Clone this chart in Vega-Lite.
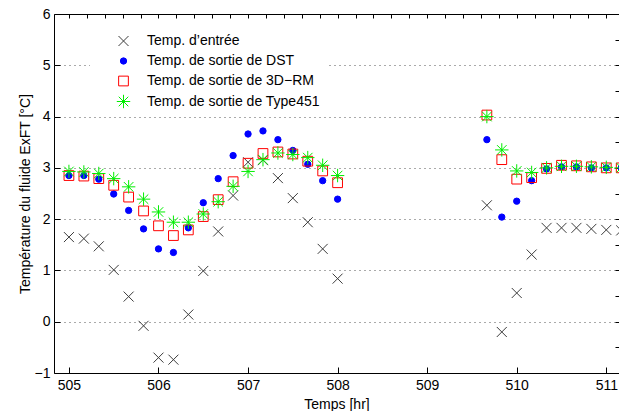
{
  "$schema": "https://vega.github.io/schema/vega-lite/v6.json",
  "width": 565,
  "height": 359,
  "autosize": {"type": "none"},
  "padding": {"left": 54, "top": 14, "right": 0, "bottom": 38},
  "config": {
    "view": {"stroke": "black", "strokeWidth": 1},
    "font": "Liberation Sans",
    "axis": {
      "labelFont": "Liberation Sans",
      "titleFont": "Liberation Sans",
      "labelFontSize": 14,
      "titleFontSize": 14,
      "titleFontWeight": "normal",
      "labelColor": "black",
      "titleColor": "black",
      "domain": false,
      "grid": false
    },
    "legend": {
      "orient": "none",
      "legendX": 36,
      "legendY": 14,
      "padding": 6,
      "fillColor": "white",
      "labelFont": "Liberation Sans",
      "labelFontSize": 14,
      "labelColor": "black",
      "labelLimit": 400,
      "rowPadding": 1,
      "gridAlign": "all",
      "symbolStrokeWidth": 1,
      "symbolOffset": 20,
      "labelOffset": 16
    }
  },
  "resolve": {"axis": {"x": "independent", "y": "independent"}},
  "data": {
    "values": [
      {"t": 505.0, "v": 1.65, "s": "Temp. d’entrée"},
      {"t": 505.1667, "v": 1.62, "s": "Temp. d’entrée"},
      {"t": 505.3333, "v": 1.47, "s": "Temp. d’entrée"},
      {"t": 505.5, "v": 1.01, "s": "Temp. d’entrée"},
      {"t": 505.6667, "v": 0.49, "s": "Temp. d’entrée"},
      {"t": 505.8333, "v": -0.08, "s": "Temp. d’entrée"},
      {"t": 506.0, "v": -0.70, "s": "Temp. d’entrée"},
      {"t": 506.1667, "v": -0.74, "s": "Temp. d’entrée"},
      {"t": 506.3333, "v": 0.14, "s": "Temp. d’entrée"},
      {"t": 506.5, "v": 0.99, "s": "Temp. d’entrée"},
      {"t": 506.6667, "v": 1.76, "s": "Temp. d’entrée"},
      {"t": 506.8333, "v": 2.46, "s": "Temp. d’entrée"},
      {"t": 507.0, "v": 3.11, "s": "Temp. d’entrée"},
      {"t": 507.1667, "v": 3.15, "s": "Temp. d’entrée"},
      {"t": 507.3333, "v": 2.80, "s": "Temp. d’entrée"},
      {"t": 507.5, "v": 2.41, "s": "Temp. d’entrée"},
      {"t": 507.6667, "v": 1.94, "s": "Temp. d’entrée"},
      {"t": 507.8333, "v": 1.42, "s": "Temp. d’entrée"},
      {"t": 508.0, "v": 0.84, "s": "Temp. d’entrée"},
      {"t": 509.6667, "v": 2.27, "s": "Temp. d’entrée"},
      {"t": 509.8333, "v": -0.20, "s": "Temp. d’entrée"},
      {"t": 510.0, "v": 0.56, "s": "Temp. d’entrée"},
      {"t": 510.1667, "v": 1.31, "s": "Temp. d’entrée"},
      {"t": 510.3333, "v": 1.83, "s": "Temp. d’entrée"},
      {"t": 510.5, "v": 1.83, "s": "Temp. d’entrée"},
      {"t": 510.6667, "v": 1.83, "s": "Temp. d’entrée"},
      {"t": 510.8333, "v": 1.81, "s": "Temp. d’entrée"},
      {"t": 511.0, "v": 1.79, "s": "Temp. d’entrée"},
      {"t": 511.1667, "v": 1.78, "s": "Temp. d’entrée"},

      {"t": 505.0, "v": 2.85, "s": "Temp. de sortie de DST"},
      {"t": 505.1667, "v": 2.85, "s": "Temp. de sortie de DST"},
      {"t": 505.3333, "v": 2.78, "s": "Temp. de sortie de DST"},
      {"t": 505.5, "v": 2.49, "s": "Temp. de sortie de DST"},
      {"t": 505.6667, "v": 2.17, "s": "Temp. de sortie de DST"},
      {"t": 505.8333, "v": 1.81, "s": "Temp. de sortie de DST"},
      {"t": 506.0, "v": 1.42, "s": "Temp. de sortie de DST"},
      {"t": 506.1667, "v": 1.35, "s": "Temp. de sortie de DST"},
      {"t": 506.3333, "v": 1.83, "s": "Temp. de sortie de DST"},
      {"t": 506.5, "v": 2.32, "s": "Temp. de sortie de DST"},
      {"t": 506.6667, "v": 2.79, "s": "Temp. de sortie de DST"},
      {"t": 506.8333, "v": 3.24, "s": "Temp. de sortie de DST"},
      {"t": 507.0, "v": 3.66, "s": "Temp. de sortie de DST"},
      {"t": 507.1667, "v": 3.72, "s": "Temp. de sortie de DST"},
      {"t": 507.3333, "v": 3.55, "s": "Temp. de sortie de DST"},
      {"t": 507.5, "v": 3.34, "s": "Temp. de sortie de DST"},
      {"t": 507.6667, "v": 3.07, "s": "Temp. de sortie de DST"},
      {"t": 507.8333, "v": 2.75, "s": "Temp. de sortie de DST"},
      {"t": 508.0, "v": 2.39, "s": "Temp. de sortie de DST"},
      {"t": 509.6667, "v": 3.55, "s": "Temp. de sortie de DST"},
      {"t": 509.8333, "v": 2.04, "s": "Temp. de sortie de DST"},
      {"t": 510.0, "v": 2.35, "s": "Temp. de sortie de DST"},
      {"t": 510.1667, "v": 2.75, "s": "Temp. de sortie de DST"},
      {"t": 510.3333, "v": 2.98, "s": "Temp. de sortie de DST"},
      {"t": 510.5, "v": 3.02, "s": "Temp. de sortie de DST"},
      {"t": 510.6667, "v": 3.02, "s": "Temp. de sortie de DST"},
      {"t": 510.8333, "v": 3.0, "s": "Temp. de sortie de DST"},
      {"t": 511.0, "v": 3.0, "s": "Temp. de sortie de DST"},
      {"t": 511.1667, "v": 3.0, "s": "Temp. de sortie de DST"},

      {"t": 505.0, "v": 2.85, "s": "Temp. de sortie de 3D−RM"},
      {"t": 505.1667, "v": 2.84, "s": "Temp. de sortie de 3D−RM"},
      {"t": 505.3333, "v": 2.79, "s": "Temp. de sortie de 3D−RM"},
      {"t": 505.5, "v": 2.66, "s": "Temp. de sortie de 3D−RM"},
      {"t": 505.6667, "v": 2.43, "s": "Temp. de sortie de 3D−RM"},
      {"t": 505.8333, "v": 2.16, "s": "Temp. de sortie de 3D−RM"},
      {"t": 506.0, "v": 1.87, "s": "Temp. de sortie de 3D−RM"},
      {"t": 506.1667, "v": 1.68, "s": "Temp. de sortie de 3D−RM"},
      {"t": 506.3333, "v": 1.79, "s": "Temp. de sortie de 3D−RM"},
      {"t": 506.5, "v": 2.05, "s": "Temp. de sortie de 3D−RM"},
      {"t": 506.6667, "v": 2.38, "s": "Temp. de sortie de 3D−RM"},
      {"t": 506.8333, "v": 2.73, "s": "Temp. de sortie de 3D−RM"},
      {"t": 507.0, "v": 3.09, "s": "Temp. de sortie de 3D−RM"},
      {"t": 507.1667, "v": 3.28, "s": "Temp. de sortie de 3D−RM"},
      {"t": 507.3333, "v": 3.31, "s": "Temp. de sortie de 3D−RM"},
      {"t": 507.5, "v": 3.27, "s": "Temp. de sortie de 3D−RM"},
      {"t": 507.6667, "v": 3.13, "s": "Temp. de sortie de 3D−RM"},
      {"t": 507.8333, "v": 2.94, "s": "Temp. de sortie de 3D−RM"},
      {"t": 508.0, "v": 2.71, "s": "Temp. de sortie de 3D−RM"},
      {"t": 509.6667, "v": 4.03, "s": "Temp. de sortie de 3D−RM"},
      {"t": 509.8333, "v": 3.16, "s": "Temp. de sortie de 3D−RM"},
      {"t": 510.0, "v": 2.78, "s": "Temp. de sortie de 3D−RM"},
      {"t": 510.1667, "v": 2.81, "s": "Temp. de sortie de 3D−RM"},
      {"t": 510.3333, "v": 2.99, "s": "Temp. de sortie de 3D−RM"},
      {"t": 510.5, "v": 3.05, "s": "Temp. de sortie de 3D−RM"},
      {"t": 510.6667, "v": 3.04, "s": "Temp. de sortie de 3D−RM"},
      {"t": 510.8333, "v": 3.02, "s": "Temp. de sortie de 3D−RM"},
      {"t": 511.0, "v": 3.0, "s": "Temp. de sortie de 3D−RM"},
      {"t": 511.1667, "v": 3.0, "s": "Temp. de sortie de 3D−RM"},

      {"t": 505.0, "v": 2.93, "s": "Temp. de sortie de Type451"},
      {"t": 505.1667, "v": 2.92, "s": "Temp. de sortie de Type451"},
      {"t": 505.3333, "v": 2.89, "s": "Temp. de sortie de Type451"},
      {"t": 505.5, "v": 2.79, "s": "Temp. de sortie de Type451"},
      {"t": 505.6667, "v": 2.63, "s": "Temp. de sortie de Type451"},
      {"t": 505.8333, "v": 2.39, "s": "Temp. de sortie de Type451"},
      {"t": 506.0, "v": 2.14, "s": "Temp. de sortie de Type451"},
      {"t": 506.1667, "v": 1.94, "s": "Temp. de sortie de Type451"},
      {"t": 506.3333, "v": 1.94, "s": "Temp. de sortie de Type451"},
      {"t": 506.5, "v": 2.10, "s": "Temp. de sortie de Type451"},
      {"t": 506.6667, "v": 2.34, "s": "Temp. de sortie de Type451"},
      {"t": 506.8333, "v": 2.64, "s": "Temp. de sortie de Type451"},
      {"t": 507.0, "v": 2.93, "s": "Temp. de sortie de Type451"},
      {"t": 507.1667, "v": 3.16, "s": "Temp. de sortie de Type451"},
      {"t": 507.3333, "v": 3.29, "s": "Temp. de sortie de Type451"},
      {"t": 507.5, "v": 3.26, "s": "Temp. de sortie de Type451"},
      {"t": 507.6667, "v": 3.20, "s": "Temp. de sortie de Type451"},
      {"t": 507.8333, "v": 3.05, "s": "Temp. de sortie de Type451"},
      {"t": 508.0, "v": 2.85, "s": "Temp. de sortie de Type451"},
      {"t": 509.6667, "v": 4.00, "s": "Temp. de sortie de Type451"},
      {"t": 509.8333, "v": 3.35, "s": "Temp. de sortie de Type451"},
      {"t": 510.0, "v": 2.94, "s": "Temp. de sortie de Type451"},
      {"t": 510.1667, "v": 2.91, "s": "Temp. de sortie de Type451"},
      {"t": 510.3333, "v": 3.0, "s": "Temp. de sortie de Type451"},
      {"t": 510.5, "v": 3.03, "s": "Temp. de sortie de Type451"},
      {"t": 510.6667, "v": 3.03, "s": "Temp. de sortie de Type451"},
      {"t": 510.8333, "v": 3.02, "s": "Temp. de sortie de Type451"},
      {"t": 511.0, "v": 3.01, "s": "Temp. de sortie de Type451"},
      {"t": 511.1667, "v": 3.0, "s": "Temp. de sortie de Type451"}
    ]
  },
  "layer": [
    {
      "mark": {"type": "point", "opacity": 0},
      "encoding": {
        "x": {"field": "t", "type": "quantitative",
          "scale": {"domain": [504.8333, 511.142], "nice": false, "zero": false},
          "axis": {"orient": "top", "title": null, "labels": false, "ticks": true, "tickSize": -4, "tickColor": "black", "tickWidth": 1, "tickOpacity": 1,
            "values": [505,505.2,505.4,505.6,505.8,506,506.2,506.4,506.6,506.8,507,507.2,507.4,507.6,507.8,508,508.2,508.4,508.6,508.8,509,509.2,509.4,509.6,509.8,510,510.2,510.4,510.6,510.8,511]}},
        "y": {"field": "v", "type": "quantitative",
          "scale": {"domain": [-1, 6], "nice": false, "zero": false},
          "axis": {"orient": "right", "title": null, "labels": false, "ticks": true, "tickSize": -4, "tickColor": "black", "tickWidth": 1, "tickOpacity": 1,
            "values": [-1,-0.5,0,0.5,1,1.5,2,2.5,3,3.5,4,4.5,5,5.5,6]}}
      }
    },
    {
      "mark": {"type": "point", "filled": false, "strokeWidth": 1, "opacity": 1, "clip": true},
      "encoding": {
        "x": {"field": "t", "type": "quantitative",
          "axis": {"orient": "bottom", "title": "Temps [hr]", "titlePadding": 5,
            "values": [505,506,507,508,509,510,511],
            "ticks": true, "tickSize": -6, "tickColor": "black", "tickWidth": 1, "tickOpacity": 1, "labelPadding": 11}},
        "y": {"field": "v", "type": "quantitative",
          "axis": {"orient": "left", "title": "Température du fluide ExFT [°C]", "titlePadding": 2,
            "values": [-1,0,1,2,3,4,5,6],
            "ticks": true, "tickSize": -6, "tickColor": "black", "tickWidth": 1, "tickOpacity": 1, "labelPadding": 10,
            "grid": true, "gridColor": "#555555", "gridDash": [1, 4],
            "gridOpacity": {"condition": {"test": "datum.value > -1 && datum.value < 6", "value": 1}, "value": 0}}},
        "color": {"field": "s", "type": "nominal",
          "scale": {"domain": ["Temp. d’entrée", "Temp. de sortie de DST", "Temp. de sortie de 3D−RM", "Temp. de sortie de Type451"],
            "range": ["#3c3c3c", "#0000ff", "#ff0000", "#00ee00"]},
          "legend": {"title": null}},
        "fill": {"field": "s", "type": "nominal",
          "scale": {"domain": ["Temp. d’entrée", "Temp. de sortie de DST", "Temp. de sortie de 3D−RM", "Temp. de sortie de Type451"],
            "range": ["transparent", "#0000ff", "transparent", "transparent"]},
          "legend": {"title": null}},
        "shape": {"field": "s", "type": "nominal",
          "scale": {"domain": ["Temp. d’entrée", "Temp. de sortie de DST", "Temp. de sortie de 3D−RM", "Temp. de sortie de Type451"],
            "range": ["M-1,-1L1,1M-1,1L1,-1", "circle", "square", "M0,-1L0,1M-1,0L1,0M-0.71,-0.71L0.71,0.71M-0.71,0.71L0.71,-0.71"]},
          "legend": {"title": null}},
        "size": {"field": "s", "type": "nominal",
          "scale": {"type": "ordinal", "domain": ["Temp. d’entrée", "Temp. de sortie de DST", "Temp. de sortie de 3D−RM", "Temp. de sortie de Type451"],
            "range": [100, 40, 95, 180]},
          "legend": {"title": null}}
      }
    }
  ]
}
